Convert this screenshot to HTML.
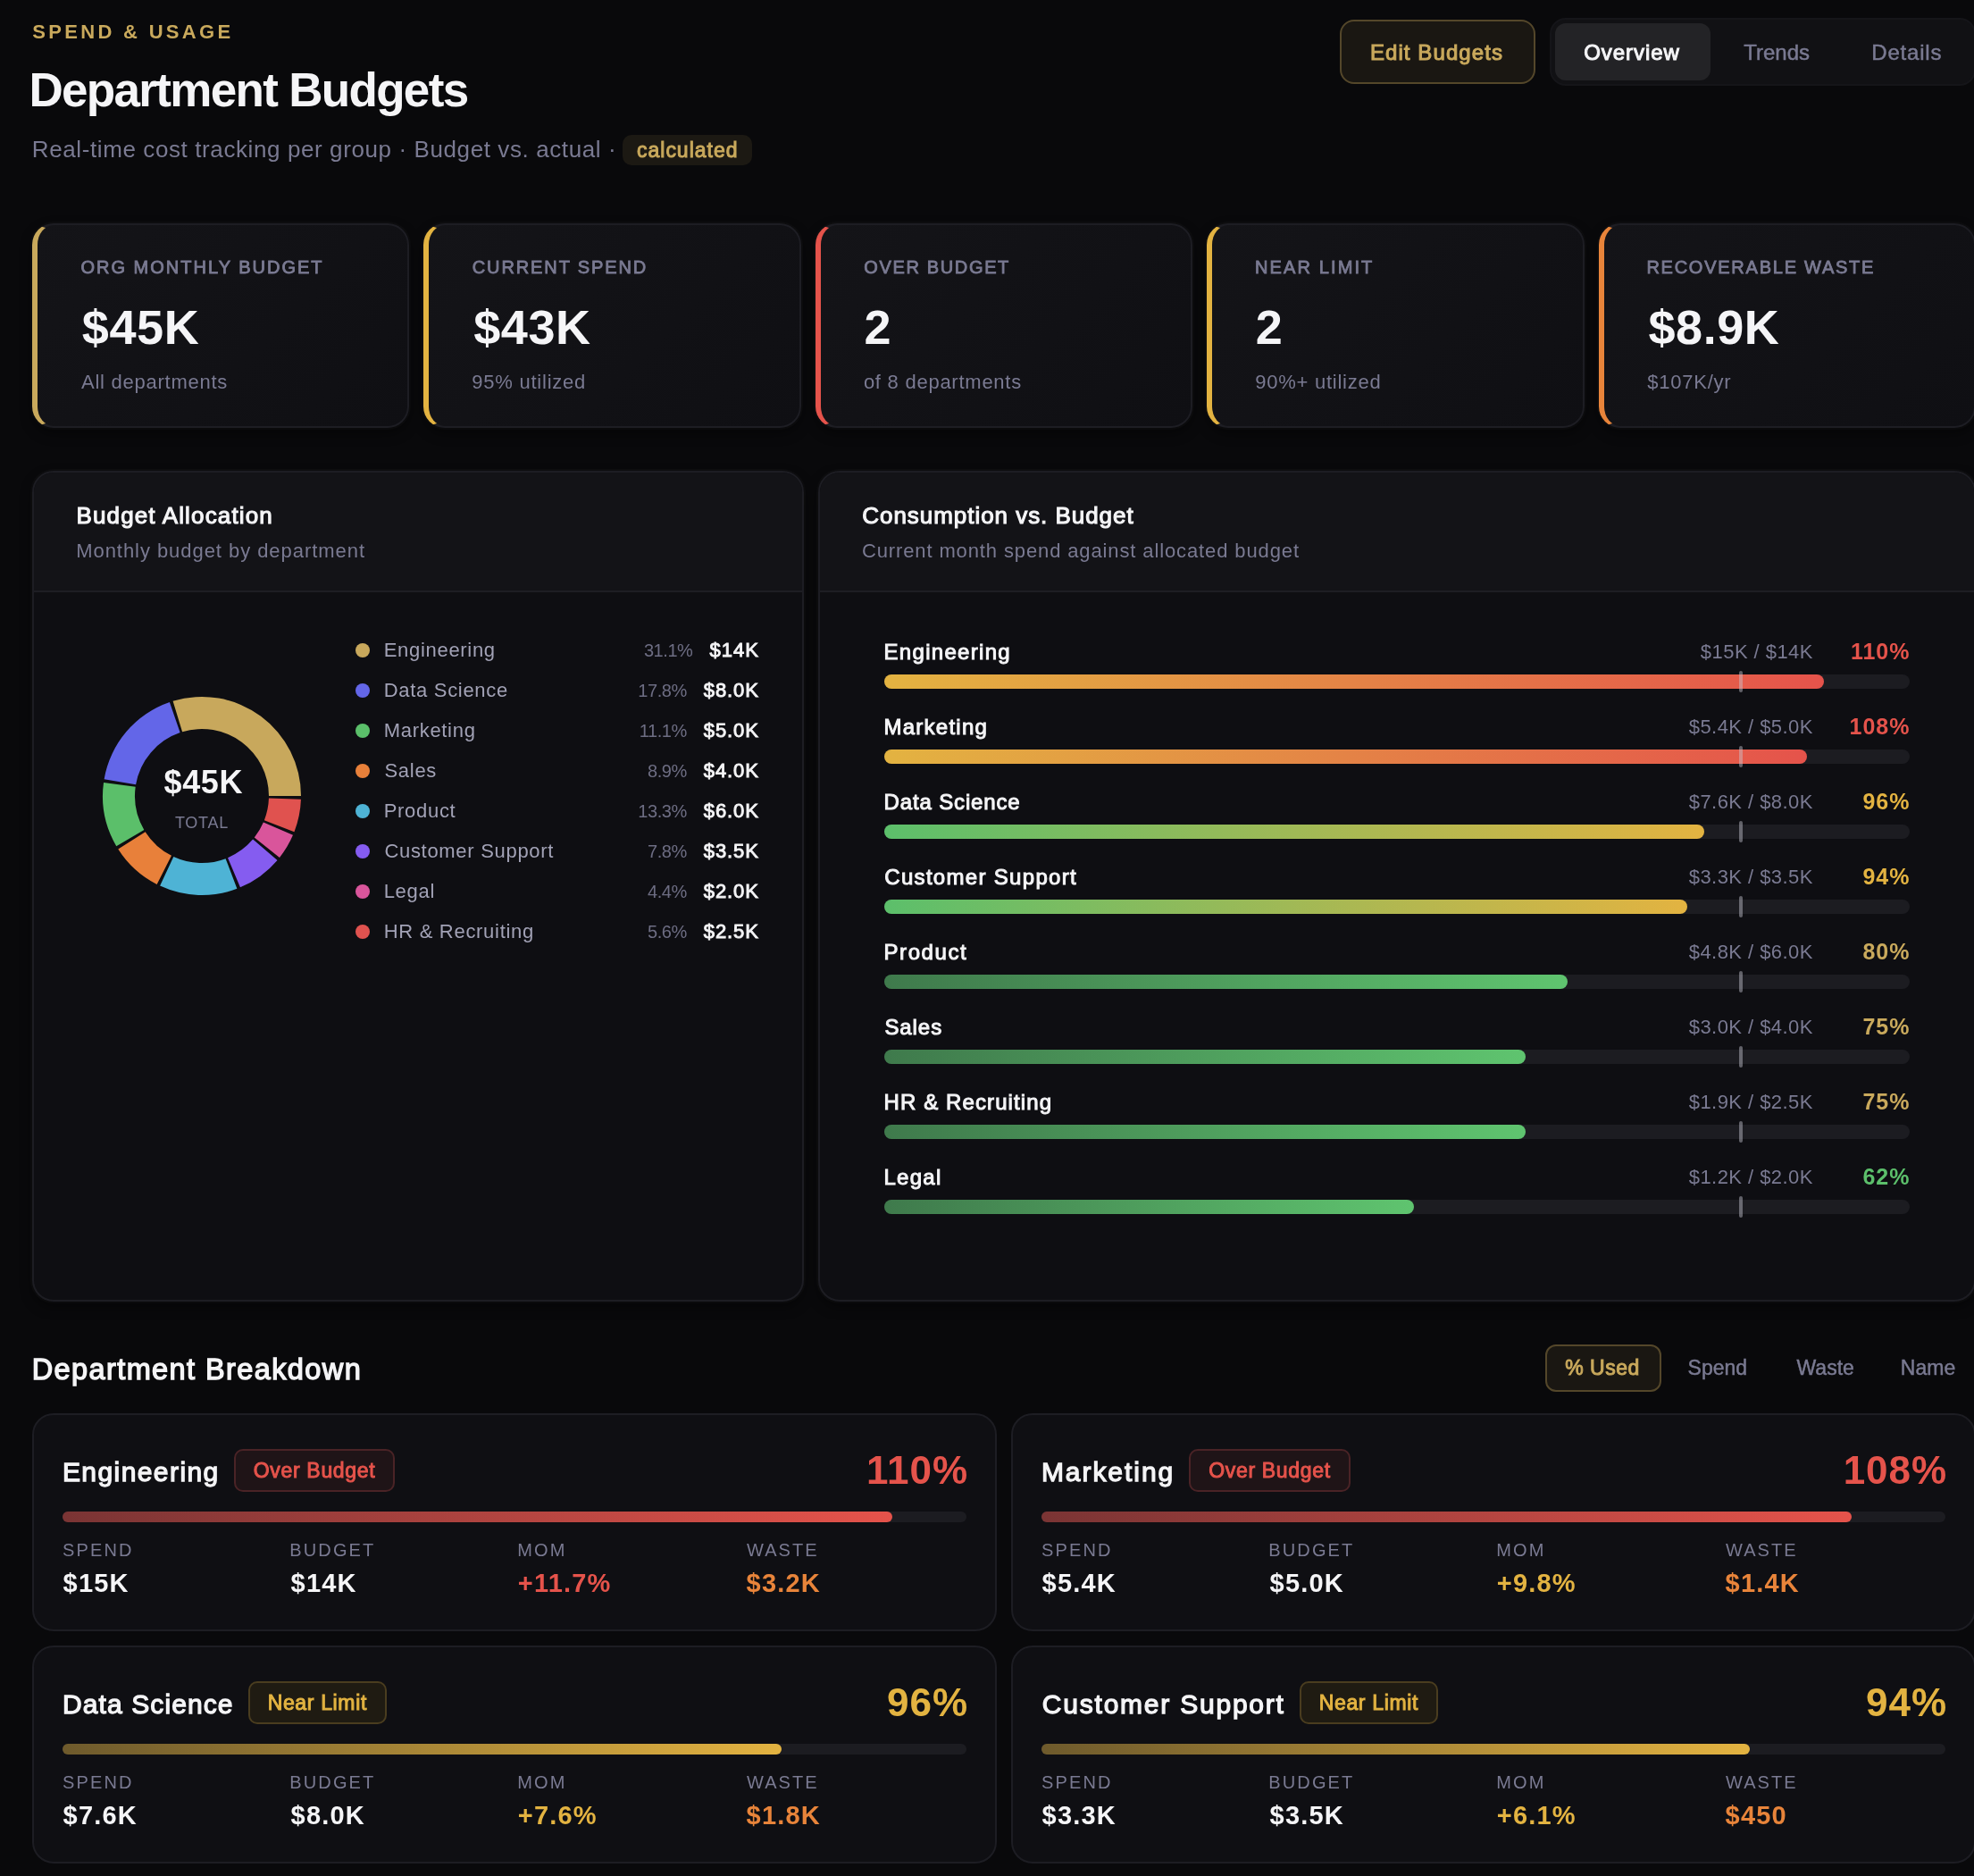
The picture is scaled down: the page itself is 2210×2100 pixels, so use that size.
<!DOCTYPE html><html><head><meta charset="utf-8"><title>Department Budgets</title>
<style>html,body{margin:0;padding:0;background:#09090b;}body{position:relative;width:2210px;height:2100px;overflow:hidden;font-family:"Liberation Sans", sans-serif;}</style>
<script>(function(){var w=window.innerWidth;if(w&&Math.abs(w-2210)>2){document.documentElement.style.zoom=w/2210;}})();</script>
</head><body><div style="position:absolute;left:0;top:0;width:2210px;height:2100px;overflow:hidden;will-change:transform">
<div style="position:absolute;left:36.37px;top:25.38px;font-size:22px;line-height:22px;color:#c9a95c;font-weight:700;letter-spacing:3.3px;white-space:pre;">SPEND &amp; USAGE</div>
<div style="position:absolute;left:32.45px;top:74.14px;font-size:53px;line-height:53px;color:#f5f5f7;font-weight:700;letter-spacing:-1.68px;white-space:pre;">Department Budgets</div>
<div style="position:absolute;left:35.87px;top:153.99px;font-size:26px;line-height:26px;color:#7a7a92;font-weight:400;letter-spacing:0.6px;white-space:pre;">Real-time cost tracking per group · Budget vs. actual ·</div>
<div style="position:absolute;left:697.00px;top:151.00px;width:145.00px;height:34.00px;background:#1c1913;border-radius:10px;"></div>
<div style="position:absolute;left:713.01px;top:156.53px;font-size:23px;line-height:23px;color:#c9a95c;font-weight:400;-webkit-text-stroke:0.97px currentColor;letter-spacing:0.992px;white-space:pre;">calculated</div>
<div style="position:absolute;left:1500.00px;top:22.00px;width:219.00px;height:72.00px;box-sizing:border-box;border:2px solid #54472a;background:#1a1712;border-radius:16px;"></div>
<div style="position:absolute;left:1533.94px;top:46.98px;font-size:24px;line-height:24px;color:#c9a95c;font-weight:400;-webkit-text-stroke:1.01px currentColor;letter-spacing:1.082px;white-space:pre;">Edit Budgets</div>
<div style="position:absolute;left:1735.00px;top:20.00px;width:477.00px;height:76.00px;box-sizing:border-box;background:#111114;border:2px solid #151519;border-radius:18px;"></div>
<div style="position:absolute;left:1741.00px;top:26.00px;width:174.00px;height:64.00px;background:#232326;border-radius:12px;"></div>
<div style="position:absolute;left:1773.17px;top:46.78px;font-size:24px;line-height:24px;color:#f5f5f7;font-weight:400;-webkit-text-stroke:1.01px currentColor;letter-spacing:0.959px;white-space:pre;">Overview</div>
<div style="position:absolute;left:1952.20px;top:46.78px;font-size:24px;line-height:24px;color:#7a7a92;font-weight:400;-webkit-text-stroke:0.48px currentColor;letter-spacing:0.000px;white-space:pre;">Trends</div>
<div style="position:absolute;left:2095.27px;top:46.78px;font-size:24px;line-height:24px;color:#7a7a92;font-weight:400;-webkit-text-stroke:0.48px currentColor;letter-spacing:0.800px;white-space:pre;">Details</div>
<div style="position:absolute;left:36.00px;top:250.00px;width:422.40px;height:229.00px;box-sizing:border-box;border:2px solid #1d1d23;border-left:6px solid #c9a95c;border-radius:24px;background:linear-gradient(135deg,#141418 0%,#0f0f13 100%);box-shadow:0 0 0 2px rgba(255,255,255,.018),0 6px 14px rgba(0,0,0,.45);"></div>
<div style="position:absolute;left:90.47px;top:289.07px;font-size:20px;line-height:20px;color:#7a7a92;font-weight:400;-webkit-text-stroke:0.84px currentColor;letter-spacing:2.009px;white-space:pre;">ORG MONTHLY BUDGET</div>
<div style="position:absolute;left:91.79px;top:338.89px;font-size:54px;line-height:54px;color:#f5f5f7;font-weight:700;letter-spacing:0.6px;white-space:pre;">$45K</div>
<div style="position:absolute;left:90.96px;top:417.18px;font-size:22px;line-height:22px;color:#7a7a92;font-weight:400;letter-spacing:0.75px;white-space:pre;">All departments</div>
<div style="position:absolute;left:474.40px;top:250.00px;width:422.40px;height:229.00px;box-sizing:border-box;border:2px solid #1d1d23;border-left:6px solid #e3b341;border-radius:24px;background:linear-gradient(135deg,#141418 0%,#0f0f13 100%);box-shadow:0 0 0 2px rgba(255,255,255,.018),0 6px 14px rgba(0,0,0,.45);"></div>
<div style="position:absolute;left:528.80px;top:289.07px;font-size:20px;line-height:20px;color:#7a7a92;font-weight:400;-webkit-text-stroke:0.84px currentColor;letter-spacing:1.880px;white-space:pre;">CURRENT SPEND</div>
<div style="position:absolute;left:530.19px;top:338.89px;font-size:54px;line-height:54px;color:#f5f5f7;font-weight:700;letter-spacing:0.6px;white-space:pre;">$43K</div>
<div style="position:absolute;left:528.37px;top:417.18px;font-size:22px;line-height:22px;color:#7a7a92;font-weight:400;letter-spacing:0.75px;white-space:pre;">95% utilized</div>
<div style="position:absolute;left:912.80px;top:250.00px;width:422.40px;height:229.00px;box-sizing:border-box;border:2px solid #1d1d23;border-left:6px solid #e5534b;border-radius:24px;background:linear-gradient(135deg,#141418 0%,#0f0f13 100%);box-shadow:0 0 0 2px rgba(255,255,255,.018),0 6px 14px rgba(0,0,0,.45);"></div>
<div style="position:absolute;left:967.27px;top:289.07px;font-size:20px;line-height:20px;color:#7a7a92;font-weight:400;-webkit-text-stroke:0.84px currentColor;letter-spacing:1.650px;white-space:pre;">OVER BUDGET</div>
<div style="position:absolute;left:967.43px;top:338.89px;font-size:54px;line-height:54px;color:#f5f5f7;font-weight:700;letter-spacing:0.6px;white-space:pre;">2</div>
<div style="position:absolute;left:966.88px;top:417.18px;font-size:22px;line-height:22px;color:#7a7a92;font-weight:400;letter-spacing:0.75px;white-space:pre;">of 8 departments</div>
<div style="position:absolute;left:1351.20px;top:250.00px;width:422.40px;height:229.00px;box-sizing:border-box;border:2px solid #1d1d23;border-left:6px solid #e3b341;border-radius:24px;background:linear-gradient(135deg,#141418 0%,#0f0f13 100%);box-shadow:0 0 0 2px rgba(255,255,255,.018),0 6px 14px rgba(0,0,0,.45);"></div>
<div style="position:absolute;left:1404.98px;top:289.07px;font-size:20px;line-height:20px;color:#7a7a92;font-weight:400;-webkit-text-stroke:0.84px currentColor;letter-spacing:2.124px;white-space:pre;">NEAR LIMIT</div>
<div style="position:absolute;left:1405.83px;top:338.89px;font-size:54px;line-height:54px;color:#f5f5f7;font-weight:700;letter-spacing:0.6px;white-space:pre;">2</div>
<div style="position:absolute;left:1405.17px;top:417.18px;font-size:22px;line-height:22px;color:#7a7a92;font-weight:400;letter-spacing:0.75px;white-space:pre;">90%+ utilized</div>
<div style="position:absolute;left:1789.60px;top:250.00px;width:422.40px;height:229.00px;box-sizing:border-box;border:2px solid #1d1d23;border-left:6px solid #e8843a;border-radius:24px;background:linear-gradient(135deg,#141418 0%,#0f0f13 100%);box-shadow:0 0 0 2px rgba(255,255,255,.018),0 6px 14px rgba(0,0,0,.45);"></div>
<div style="position:absolute;left:1843.38px;top:289.07px;font-size:20px;line-height:20px;color:#7a7a92;font-weight:400;-webkit-text-stroke:0.84px currentColor;letter-spacing:1.755px;white-space:pre;">RECOVERABLE WASTE</div>
<div style="position:absolute;left:1845.39px;top:338.89px;font-size:54px;line-height:54px;color:#f5f5f7;font-weight:700;letter-spacing:0.6px;white-space:pre;">$8.9K</div>
<div style="position:absolute;left:1844.36px;top:417.18px;font-size:22px;line-height:22px;color:#7a7a92;font-weight:400;letter-spacing:0.75px;white-space:pre;">$107K/yr</div>
<div style="position:absolute;left:36.00px;top:527.00px;width:864.00px;height:930.00px;box-sizing:border-box;border:2px solid #1d1d23;border-radius:24px;background:#0e0e12;box-shadow:0 0 0 2px rgba(255,255,255,.018),0 6px 14px rgba(0,0,0,.45);"></div>
<div style="position:absolute;left:38.00px;top:529.00px;width:860.00px;height:132.00px;background:#131317;border-radius:22px 22px 0 0;"></div>
<div style="position:absolute;left:38.00px;top:661.00px;width:860.00px;height:2.00px;background:#1d1d23;"></div>
<div style="position:absolute;left:916.00px;top:527.00px;width:1296.00px;height:930.00px;box-sizing:border-box;border:2px solid #1d1d23;border-radius:24px;background:#0e0e12;box-shadow:0 0 0 2px rgba(255,255,255,.018),0 6px 14px rgba(0,0,0,.45);"></div>
<div style="position:absolute;left:918.00px;top:529.00px;width:1292.00px;height:132.00px;background:#131317;border-radius:22px 22px 0 0;"></div>
<div style="position:absolute;left:918.00px;top:661.00px;width:1292.00px;height:2.00px;background:#1d1d23;"></div>
<div style="position:absolute;left:85.41px;top:563.99px;font-size:26px;line-height:26px;color:#f5f5f7;font-weight:400;-webkit-text-stroke:1.09px currentColor;letter-spacing:1.154px;white-space:pre;">Budget Allocation</div>
<div style="position:absolute;left:85.20px;top:605.78px;font-size:22px;line-height:22px;color:#7a7a92;font-weight:400;letter-spacing:0.95px;white-space:pre;">Monthly budget by department</div>
<div style="position:absolute;left:965.22px;top:563.99px;font-size:26px;line-height:26px;color:#f5f5f7;font-weight:400;-webkit-text-stroke:1.09px currentColor;letter-spacing:0.961px;white-space:pre;">Consumption vs. Budget</div>
<div style="position:absolute;left:964.88px;top:605.78px;font-size:22px;line-height:22px;color:#7a7a92;font-weight:400;letter-spacing:0.88px;white-space:pre;">Current month spend against allocated budget</div>
<svg style="position:absolute;left:0;top:0" width="2210" height="2100" viewBox="0 0 2210 2100"><path d="M337.00,891.00 A111,111 0 0 0 193.58,784.84 L204.09,819.27 A75,75 0 0 1 301.00,891.00 Z" fill="#c8a85c"/><path d="M189.89,786.04 A111,111 0 0 0 116.61,872.14 L152.09,878.25 A75,75 0 0 1 201.60,820.08 Z" fill="#6366e8"/><path d="M116.02,875.97 A111,111 0 0 0 130.26,947.17 L161.31,928.95 A75,75 0 0 1 151.69,880.84 Z" fill="#5bbf6a"/><path d="M132.28,950.48 A111,111 0 0 0 175.63,989.92 L191.97,957.83 A75,75 0 0 1 162.68,931.19 Z" fill="#e8803a"/><path d="M179.12,991.61 A111,111 0 0 0 265.36,994.79 L252.59,961.13 A75,75 0 0 1 194.32,958.98 Z" fill="#4eb3d5"/><path d="M268.96,993.35 A111,111 0 0 0 310.53,962.94 L283.12,939.61 A75,75 0 0 1 255.03,960.16 Z" fill="#855cf0"/><path d="M312.99,959.95 A111,111 0 0 0 327.98,934.84 L294.90,920.62 A75,75 0 0 1 284.78,937.59 Z" fill="#d9559b"/><path d="M329.44,931.26 A111,111 0 0 0 336.93,894.87 L300.95,893.62 A75,75 0 0 1 295.89,918.20 Z" fill="#e0524f"/></svg>
<div style="position:absolute;left:183.53px;top:858.43px;font-size:36px;line-height:36px;color:#f5f5f7;font-weight:700;letter-spacing:0.6px;white-space:pre;">$45K</div>
<div style="position:absolute;left:195.90px;top:911.76px;font-size:18px;line-height:18px;color:#7a7a92;font-weight:400;letter-spacing:0.75px;white-space:pre;">TOTAL</div>
<div style="position:absolute;left:398.00px;top:720.00px;width:16.00px;height:16.00px;background:#c8a85c;border-radius:50%;"></div>
<div style="position:absolute;left:429.70px;top:716.68px;font-size:22px;line-height:22px;color:#a2a2b6;font-weight:400;letter-spacing:0.7px;white-space:pre;">Engineering</div>
<div style="position:absolute;right:1360.20px;top:716.68px;line-height:22px;white-space:pre;display:flex;align-items:baseline;"><span style="font-size:20px;color:#6d6d83;letter-spacing:-0.45px;margin-right:19px">31.1%</span><span style="font-size:22px;color:#f5f5f7;font-weight:400;-webkit-text-stroke:0.92px currentColor;letter-spacing:1.005px;">$14K</span></div>
<div style="position:absolute;left:398.00px;top:765.00px;width:16.00px;height:16.00px;background:#6366e8;border-radius:50%;"></div>
<div style="position:absolute;left:429.70px;top:761.68px;font-size:22px;line-height:22px;color:#a2a2b6;font-weight:400;letter-spacing:0.7px;white-space:pre;">Data Science</div>
<div style="position:absolute;right:1360.20px;top:761.68px;line-height:22px;white-space:pre;display:flex;align-items:baseline;"><span style="font-size:20px;color:#6d6d83;letter-spacing:-0.45px;margin-right:19px">17.8%</span><span style="font-size:22px;color:#f5f5f7;font-weight:400;-webkit-text-stroke:0.92px currentColor;letter-spacing:0.903px;">$8.0K</span></div>
<div style="position:absolute;left:398.00px;top:810.00px;width:16.00px;height:16.00px;background:#5bbf6a;border-radius:50%;"></div>
<div style="position:absolute;left:429.70px;top:806.68px;font-size:22px;line-height:22px;color:#a2a2b6;font-weight:400;letter-spacing:0.7px;white-space:pre;">Marketing</div>
<div style="position:absolute;right:1360.20px;top:806.68px;line-height:22px;white-space:pre;display:flex;align-items:baseline;"><span style="font-size:20px;color:#6d6d83;letter-spacing:-0.45px;margin-right:19px">11.1%</span><span style="font-size:22px;color:#f5f5f7;font-weight:400;-webkit-text-stroke:0.92px currentColor;letter-spacing:0.903px;">$5.0K</span></div>
<div style="position:absolute;left:398.00px;top:855.00px;width:16.00px;height:16.00px;background:#e8803a;border-radius:50%;"></div>
<div style="position:absolute;left:430.50px;top:851.68px;font-size:22px;line-height:22px;color:#a2a2b6;font-weight:400;letter-spacing:0.7px;white-space:pre;">Sales</div>
<div style="position:absolute;right:1360.20px;top:851.68px;line-height:22px;white-space:pre;display:flex;align-items:baseline;"><span style="font-size:20px;color:#6d6d83;letter-spacing:-0.45px;margin-right:19px">8.9%</span><span style="font-size:22px;color:#f5f5f7;font-weight:400;-webkit-text-stroke:0.92px currentColor;letter-spacing:0.903px;">$4.0K</span></div>
<div style="position:absolute;left:398.00px;top:900.00px;width:16.00px;height:16.00px;background:#4eb3d5;border-radius:50%;"></div>
<div style="position:absolute;left:429.70px;top:896.68px;font-size:22px;line-height:22px;color:#a2a2b6;font-weight:400;letter-spacing:0.7px;white-space:pre;">Product</div>
<div style="position:absolute;right:1360.20px;top:896.68px;line-height:22px;white-space:pre;display:flex;align-items:baseline;"><span style="font-size:20px;color:#6d6d83;letter-spacing:-0.45px;margin-right:19px">13.3%</span><span style="font-size:22px;color:#f5f5f7;font-weight:400;-webkit-text-stroke:0.92px currentColor;letter-spacing:0.903px;">$6.0K</span></div>
<div style="position:absolute;left:398.00px;top:945.00px;width:16.00px;height:16.00px;background:#855cf0;border-radius:50%;"></div>
<div style="position:absolute;left:430.38px;top:941.68px;font-size:22px;line-height:22px;color:#a2a2b6;font-weight:400;letter-spacing:0.7px;white-space:pre;">Customer Support</div>
<div style="position:absolute;right:1360.20px;top:941.68px;line-height:22px;white-space:pre;display:flex;align-items:baseline;"><span style="font-size:20px;color:#6d6d83;letter-spacing:-0.45px;margin-right:19px">7.8%</span><span style="font-size:22px;color:#f5f5f7;font-weight:400;-webkit-text-stroke:0.92px currentColor;letter-spacing:0.903px;">$3.5K</span></div>
<div style="position:absolute;left:398.00px;top:990.00px;width:16.00px;height:16.00px;background:#d9559b;border-radius:50%;"></div>
<div style="position:absolute;left:429.70px;top:986.68px;font-size:22px;line-height:22px;color:#a2a2b6;font-weight:400;letter-spacing:0.7px;white-space:pre;">Legal</div>
<div style="position:absolute;right:1360.20px;top:986.68px;line-height:22px;white-space:pre;display:flex;align-items:baseline;"><span style="font-size:20px;color:#6d6d83;letter-spacing:-0.45px;margin-right:19px">4.4%</span><span style="font-size:22px;color:#f5f5f7;font-weight:400;-webkit-text-stroke:0.92px currentColor;letter-spacing:0.903px;">$2.0K</span></div>
<div style="position:absolute;left:398.00px;top:1035.00px;width:16.00px;height:16.00px;background:#e0524f;border-radius:50%;"></div>
<div style="position:absolute;left:429.70px;top:1031.68px;font-size:22px;line-height:22px;color:#a2a2b6;font-weight:400;letter-spacing:0.7px;white-space:pre;">HR &amp; Recruiting</div>
<div style="position:absolute;right:1360.20px;top:1031.68px;line-height:22px;white-space:pre;display:flex;align-items:baseline;"><span style="font-size:20px;color:#6d6d83;letter-spacing:-0.45px;margin-right:19px">5.6%</span><span style="font-size:22px;color:#f5f5f7;font-weight:400;-webkit-text-stroke:0.92px currentColor;letter-spacing:0.903px;">$2.5K</span></div>
<div style="position:absolute;left:989.54px;top:717.68px;font-size:24px;line-height:24px;color:#f5f5f7;font-weight:400;-webkit-text-stroke:1.01px currentColor;letter-spacing:1.308px;white-space:pre;">Engineering</div>
<div style="position:absolute;right:180.10px;top:719.38px;font-size:22px;line-height:22px;color:#7a7a92;font-weight:400;letter-spacing:0.45px;white-space:pre;">$15K / $14K</div>
<div style="position:absolute;right:71.54px;top:716.84px;font-size:25px;line-height:25px;color:#e5534b;font-weight:700;letter-spacing:1.0px;white-space:pre;">110%</div>
<div style="position:absolute;left:990.00px;top:755.00px;width:1148.00px;height:16.00px;background:#1c1c21;border-radius:8px;"></div>
<div style="position:absolute;left:990.00px;top:755.00px;width:1052.33px;height:16.00px;background:linear-gradient(90deg,#e3b341 0%,#e5534b 100%);border-radius:8px;"></div>
<div style="position:absolute;left:1947.00px;top:751.00px;width:4.00px;height:24.00px;background:rgba(200,200,210,.45);border-radius:2px;"></div>
<div style="position:absolute;left:989.54px;top:801.68px;font-size:24px;line-height:24px;color:#f5f5f7;font-weight:400;-webkit-text-stroke:1.01px currentColor;letter-spacing:1.248px;white-space:pre;">Marketing</div>
<div style="position:absolute;right:180.10px;top:803.38px;font-size:22px;line-height:22px;color:#7a7a92;font-weight:400;letter-spacing:0.45px;white-space:pre;">$5.4K / $5.0K</div>
<div style="position:absolute;right:71.54px;top:800.84px;font-size:25px;line-height:25px;color:#e5534b;font-weight:700;letter-spacing:1.0px;white-space:pre;">108%</div>
<div style="position:absolute;left:990.00px;top:839.00px;width:1148.00px;height:16.00px;background:#1c1c21;border-radius:8px;"></div>
<div style="position:absolute;left:990.00px;top:839.00px;width:1033.20px;height:16.00px;background:linear-gradient(90deg,#e3b341 0%,#e5534b 100%);border-radius:8px;"></div>
<div style="position:absolute;left:1947.00px;top:835.00px;width:4.00px;height:24.00px;background:rgba(200,200,210,.45);border-radius:2px;"></div>
<div style="position:absolute;left:989.54px;top:885.68px;font-size:24px;line-height:24px;color:#f5f5f7;font-weight:400;-webkit-text-stroke:1.01px currentColor;letter-spacing:0.856px;white-space:pre;">Data Science</div>
<div style="position:absolute;right:180.10px;top:887.38px;font-size:22px;line-height:22px;color:#7a7a92;font-weight:400;letter-spacing:0.45px;white-space:pre;">$7.6K / $8.0K</div>
<div style="position:absolute;right:71.54px;top:884.84px;font-size:25px;line-height:25px;color:#e3b341;font-weight:700;letter-spacing:1.0px;white-space:pre;">96%</div>
<div style="position:absolute;left:990.00px;top:923.00px;width:1148.00px;height:16.00px;background:#1c1c21;border-radius:8px;"></div>
<div style="position:absolute;left:990.00px;top:923.00px;width:918.40px;height:16.00px;background:linear-gradient(90deg,#5cbf6b 0%,#e3b341 100%);border-radius:8px;"></div>
<div style="position:absolute;left:1947.00px;top:919.00px;width:4.00px;height:24.00px;background:rgba(200,200,210,.45);border-radius:2px;"></div>
<div style="position:absolute;left:990.29px;top:969.68px;font-size:24px;line-height:24px;color:#f5f5f7;font-weight:400;-webkit-text-stroke:1.01px currentColor;letter-spacing:1.311px;white-space:pre;">Customer Support</div>
<div style="position:absolute;right:180.10px;top:971.38px;font-size:22px;line-height:22px;color:#7a7a92;font-weight:400;letter-spacing:0.45px;white-space:pre;">$3.3K / $3.5K</div>
<div style="position:absolute;right:71.54px;top:968.84px;font-size:25px;line-height:25px;color:#e3b341;font-weight:700;letter-spacing:1.0px;white-space:pre;">94%</div>
<div style="position:absolute;left:990.00px;top:1007.00px;width:1148.00px;height:16.00px;background:#1c1c21;border-radius:8px;"></div>
<div style="position:absolute;left:990.00px;top:1007.00px;width:899.27px;height:16.00px;background:linear-gradient(90deg,#5cbf6b 0%,#e3b341 100%);border-radius:8px;"></div>
<div style="position:absolute;left:1947.00px;top:1003.00px;width:4.00px;height:24.00px;background:rgba(200,200,210,.45);border-radius:2px;"></div>
<div style="position:absolute;left:989.54px;top:1053.68px;font-size:24px;line-height:24px;color:#f5f5f7;font-weight:400;-webkit-text-stroke:1.01px currentColor;letter-spacing:1.576px;white-space:pre;">Product</div>
<div style="position:absolute;right:180.10px;top:1055.38px;font-size:22px;line-height:22px;color:#7a7a92;font-weight:400;letter-spacing:0.45px;white-space:pre;">$4.8K / $6.0K</div>
<div style="position:absolute;right:71.54px;top:1052.84px;font-size:25px;line-height:25px;color:#c9a95c;font-weight:700;letter-spacing:1.0px;white-space:pre;">80%</div>
<div style="position:absolute;left:990.00px;top:1091.00px;width:1148.00px;height:16.00px;background:#1c1c21;border-radius:8px;"></div>
<div style="position:absolute;left:990.00px;top:1091.00px;width:765.33px;height:16.00px;background:linear-gradient(90deg,#3f7a4c 0%,#5fc46f 100%);border-radius:8px;"></div>
<div style="position:absolute;left:1947.00px;top:1087.00px;width:4.00px;height:24.00px;background:rgba(200,200,210,.45);border-radius:2px;"></div>
<div style="position:absolute;left:990.42px;top:1137.68px;font-size:24px;line-height:24px;color:#f5f5f7;font-weight:400;-webkit-text-stroke:1.01px currentColor;letter-spacing:0.921px;white-space:pre;">Sales</div>
<div style="position:absolute;right:180.10px;top:1139.38px;font-size:22px;line-height:22px;color:#7a7a92;font-weight:400;letter-spacing:0.45px;white-space:pre;">$3.0K / $4.0K</div>
<div style="position:absolute;right:71.54px;top:1136.84px;font-size:25px;line-height:25px;color:#c9a95c;font-weight:700;letter-spacing:1.0px;white-space:pre;">75%</div>
<div style="position:absolute;left:990.00px;top:1175.00px;width:1148.00px;height:16.00px;background:#1c1c21;border-radius:8px;"></div>
<div style="position:absolute;left:990.00px;top:1175.00px;width:717.50px;height:16.00px;background:linear-gradient(90deg,#3f7a4c 0%,#5fc46f 100%);border-radius:8px;"></div>
<div style="position:absolute;left:1947.00px;top:1171.00px;width:4.00px;height:24.00px;background:rgba(200,200,210,.45);border-radius:2px;"></div>
<div style="position:absolute;left:989.54px;top:1221.68px;font-size:24px;line-height:24px;color:#f5f5f7;font-weight:400;-webkit-text-stroke:1.01px currentColor;letter-spacing:1.104px;white-space:pre;">HR &amp; Recruiting</div>
<div style="position:absolute;right:180.10px;top:1223.38px;font-size:22px;line-height:22px;color:#7a7a92;font-weight:400;letter-spacing:0.45px;white-space:pre;">$1.9K / $2.5K</div>
<div style="position:absolute;right:71.54px;top:1220.84px;font-size:25px;line-height:25px;color:#c9a95c;font-weight:700;letter-spacing:1.0px;white-space:pre;">75%</div>
<div style="position:absolute;left:990.00px;top:1259.00px;width:1148.00px;height:16.00px;background:#1c1c21;border-radius:8px;"></div>
<div style="position:absolute;left:990.00px;top:1259.00px;width:717.50px;height:16.00px;background:linear-gradient(90deg,#3f7a4c 0%,#5fc46f 100%);border-radius:8px;"></div>
<div style="position:absolute;left:1947.00px;top:1255.00px;width:4.00px;height:24.00px;background:rgba(200,200,210,.45);border-radius:2px;"></div>
<div style="position:absolute;left:989.54px;top:1305.68px;font-size:24px;line-height:24px;color:#f5f5f7;font-weight:400;-webkit-text-stroke:1.01px currentColor;letter-spacing:1.240px;white-space:pre;">Legal</div>
<div style="position:absolute;right:180.10px;top:1307.38px;font-size:22px;line-height:22px;color:#7a7a92;font-weight:400;letter-spacing:0.45px;white-space:pre;">$1.2K / $2.0K</div>
<div style="position:absolute;right:71.54px;top:1304.84px;font-size:25px;line-height:25px;color:#5cbf6b;font-weight:700;letter-spacing:1.0px;white-space:pre;">62%</div>
<div style="position:absolute;left:990.00px;top:1343.00px;width:1148.00px;height:16.00px;background:#1c1c21;border-radius:8px;"></div>
<div style="position:absolute;left:990.00px;top:1343.00px;width:593.13px;height:16.00px;background:linear-gradient(90deg,#3f7a4c 0%,#5fc46f 100%);border-radius:8px;"></div>
<div style="position:absolute;left:1947.00px;top:1339.00px;width:4.00px;height:24.00px;background:rgba(200,200,210,.45);border-radius:2px;"></div>
<div style="position:absolute;left:35.71px;top:1517.49px;font-size:32.5px;line-height:32.5px;color:#f5f5f7;font-weight:400;-webkit-text-stroke:1.36px currentColor;letter-spacing:1.400px;white-space:pre;">Department Breakdown</div>
<div style="position:absolute;left:1730.00px;top:1505.00px;width:130.00px;height:53.00px;box-sizing:border-box;border:2px solid #54472a;background:#1a1712;border-radius:12px;"></div>
<div style="position:absolute;left:1752.17px;top:1519.53px;font-size:23px;line-height:23px;color:#c9a95c;font-weight:400;-webkit-text-stroke:0.97px currentColor;letter-spacing:0.510px;white-space:pre;">% Used</div>
<div style="position:absolute;left:1889.59px;top:1519.53px;font-size:23px;line-height:23px;color:#7a7a92;font-weight:400;-webkit-text-stroke:0.46px currentColor;letter-spacing:0.000px;white-space:pre;">Spend</div>
<div style="position:absolute;left:2011.53px;top:1519.53px;font-size:23px;line-height:23px;color:#7a7a92;font-weight:400;-webkit-text-stroke:0.46px currentColor;letter-spacing:0.000px;white-space:pre;">Waste</div>
<div style="position:absolute;left:2127.84px;top:1519.53px;font-size:23px;line-height:23px;color:#7a7a92;font-weight:400;-webkit-text-stroke:0.46px currentColor;letter-spacing:0.000px;white-space:pre;">Name</div>
<div style="position:absolute;left:36.00px;top:1582.00px;width:1080.00px;height:244.00px;box-sizing:border-box;border:2px solid #1d1d23;border-radius:24px;background:#0f0f13;"></div>
<div style="position:absolute;left:69.91px;top:1623.90px;height:48px;white-space:pre;display:flex;align-items:center;"><span style="font-size:30px;line-height:48px;color:#f5f5f7;font-weight:400;-webkit-text-stroke:1.26px currentColor;letter-spacing:1.423px;">Engineering</span><span style="box-sizing:border-box;height:48px;line-height:44px;padding:0 20px;margin-left:16px;border:2px solid #4a2326;background:#1f1417;border-radius:10px;font-size:23px;font-weight:400;-webkit-text-stroke:0.97px currentColor;letter-spacing:0.689px;color:#e5534b;position:relative;top:-1.5px">Over Budget</span></div>
<div style="position:absolute;right:1125.84px;top:1624.35px;font-size:44px;line-height:44px;color:#e5534b;font-weight:700;letter-spacing:1.0px;white-space:pre;">110%</div>
<div style="position:absolute;left:70.00px;top:1692.00px;width:1012.00px;height:12.00px;background:#1c1c21;border-radius:6px;"></div>
<div style="position:absolute;left:70.00px;top:1692.00px;width:928.51px;height:12.00px;background:linear-gradient(90deg,#7a3434 0%,#e5534b 100%);border-radius:6px;"></div>
<div style="position:absolute;left:70.09px;top:1725.37px;font-size:20px;line-height:20px;color:#7a7a92;font-weight:400;letter-spacing:2.1px;white-space:pre;">SPEND</div>
<div style="position:absolute;left:70.62px;top:1757.95px;font-size:29px;line-height:29px;color:#f5f5f7;font-weight:700;letter-spacing:1.2px;white-space:pre;">$15K</div>
<div style="position:absolute;left:324.36px;top:1725.37px;font-size:20px;line-height:20px;color:#7a7a92;font-weight:400;letter-spacing:2.1px;white-space:pre;">BUDGET</div>
<div style="position:absolute;left:325.62px;top:1757.95px;font-size:29px;line-height:29px;color:#f5f5f7;font-weight:700;letter-spacing:1.2px;white-space:pre;">$14K</div>
<div style="position:absolute;left:579.36px;top:1725.37px;font-size:20px;line-height:20px;color:#7a7a92;font-weight:400;letter-spacing:2.1px;white-space:pre;">MOM</div>
<div style="position:absolute;left:579.78px;top:1757.95px;font-size:29px;line-height:29px;color:#e5534b;font-weight:700;letter-spacing:1.2px;white-space:pre;">+11.7%</div>
<div style="position:absolute;left:835.91px;top:1725.37px;font-size:20px;line-height:20px;color:#7a7a92;font-weight:400;letter-spacing:2.1px;white-space:pre;">WASTE</div>
<div style="position:absolute;left:835.62px;top:1757.95px;font-size:29px;line-height:29px;color:#e8843a;font-weight:700;letter-spacing:1.2px;white-space:pre;">$3.2K</div>
<div style="position:absolute;left:1132.00px;top:1582.00px;width:1080.00px;height:244.00px;box-sizing:border-box;border:2px solid #1d1d23;border-radius:24px;background:#0f0f13;"></div>
<div style="position:absolute;left:1165.91px;top:1623.90px;height:48px;white-space:pre;display:flex;align-items:center;"><span style="font-size:30px;line-height:48px;color:#f5f5f7;font-weight:400;-webkit-text-stroke:1.26px currentColor;letter-spacing:1.947px;">Marketing</span><span style="box-sizing:border-box;height:48px;line-height:44px;padding:0 20px;margin-left:16px;border:2px solid #4a2326;background:#1f1417;border-radius:10px;font-size:23px;font-weight:400;-webkit-text-stroke:0.97px currentColor;letter-spacing:0.689px;color:#e5534b;position:relative;top:-1.5px">Over Budget</span></div>
<div style="position:absolute;right:29.84px;top:1624.35px;font-size:44px;line-height:44px;color:#e5534b;font-weight:700;letter-spacing:1.0px;white-space:pre;">108%</div>
<div style="position:absolute;left:1166.00px;top:1692.00px;width:1012.00px;height:12.00px;background:#1c1c21;border-radius:6px;"></div>
<div style="position:absolute;left:1166.00px;top:1692.00px;width:906.58px;height:12.00px;background:linear-gradient(90deg,#7a3434 0%,#e5534b 100%);border-radius:6px;"></div>
<div style="position:absolute;left:1166.09px;top:1725.37px;font-size:20px;line-height:20px;color:#7a7a92;font-weight:400;letter-spacing:2.1px;white-space:pre;">SPEND</div>
<div style="position:absolute;left:1166.62px;top:1757.95px;font-size:29px;line-height:29px;color:#f5f5f7;font-weight:700;letter-spacing:1.2px;white-space:pre;">$5.4K</div>
<div style="position:absolute;left:1420.36px;top:1725.37px;font-size:20px;line-height:20px;color:#7a7a92;font-weight:400;letter-spacing:2.1px;white-space:pre;">BUDGET</div>
<div style="position:absolute;left:1421.62px;top:1757.95px;font-size:29px;line-height:29px;color:#f5f5f7;font-weight:700;letter-spacing:1.2px;white-space:pre;">$5.0K</div>
<div style="position:absolute;left:1675.36px;top:1725.37px;font-size:20px;line-height:20px;color:#7a7a92;font-weight:400;letter-spacing:2.1px;white-space:pre;">MOM</div>
<div style="position:absolute;left:1675.78px;top:1757.95px;font-size:29px;line-height:29px;color:#e3b341;font-weight:700;letter-spacing:1.2px;white-space:pre;">+9.8%</div>
<div style="position:absolute;left:1931.91px;top:1725.37px;font-size:20px;line-height:20px;color:#7a7a92;font-weight:400;letter-spacing:2.1px;white-space:pre;">WASTE</div>
<div style="position:absolute;left:1931.62px;top:1757.95px;font-size:29px;line-height:29px;color:#e8843a;font-weight:700;letter-spacing:1.2px;white-space:pre;">$1.4K</div>
<div style="position:absolute;left:36.00px;top:1842.00px;width:1080.00px;height:244.00px;box-sizing:border-box;border:2px solid #1d1d23;border-radius:24px;background:#0f0f13;"></div>
<div style="position:absolute;left:69.91px;top:1883.90px;height:48px;white-space:pre;display:flex;align-items:center;"><span style="font-size:30px;line-height:48px;color:#f5f5f7;font-weight:400;-webkit-text-stroke:1.26px currentColor;letter-spacing:1.108px;">Data Science</span><span style="box-sizing:border-box;height:48px;line-height:44px;padding:0 20px;margin-left:16px;border:2px solid #4a3d1f;background:#1f1b12;border-radius:10px;font-size:23px;font-weight:400;-webkit-text-stroke:0.97px currentColor;letter-spacing:0.652px;color:#e3b341;position:relative;top:-1.5px">Near Limit</span></div>
<div style="position:absolute;right:1125.84px;top:1884.35px;font-size:44px;line-height:44px;color:#e3b341;font-weight:700;letter-spacing:1.0px;white-space:pre;">96%</div>
<div style="position:absolute;left:70.00px;top:1952.00px;width:1012.00px;height:12.00px;background:#1c1c21;border-radius:6px;"></div>
<div style="position:absolute;left:70.00px;top:1952.00px;width:804.54px;height:12.00px;background:linear-gradient(90deg,#6e5a2c 0%,#e3b341 100%);border-radius:6px;"></div>
<div style="position:absolute;left:70.09px;top:1985.37px;font-size:20px;line-height:20px;color:#7a7a92;font-weight:400;letter-spacing:2.1px;white-space:pre;">SPEND</div>
<div style="position:absolute;left:70.62px;top:2017.95px;font-size:29px;line-height:29px;color:#f5f5f7;font-weight:700;letter-spacing:1.2px;white-space:pre;">$7.6K</div>
<div style="position:absolute;left:324.36px;top:1985.37px;font-size:20px;line-height:20px;color:#7a7a92;font-weight:400;letter-spacing:2.1px;white-space:pre;">BUDGET</div>
<div style="position:absolute;left:325.62px;top:2017.95px;font-size:29px;line-height:29px;color:#f5f5f7;font-weight:700;letter-spacing:1.2px;white-space:pre;">$8.0K</div>
<div style="position:absolute;left:579.36px;top:1985.37px;font-size:20px;line-height:20px;color:#7a7a92;font-weight:400;letter-spacing:2.1px;white-space:pre;">MOM</div>
<div style="position:absolute;left:579.78px;top:2017.95px;font-size:29px;line-height:29px;color:#e3b341;font-weight:700;letter-spacing:1.2px;white-space:pre;">+7.6%</div>
<div style="position:absolute;left:835.91px;top:1985.37px;font-size:20px;line-height:20px;color:#7a7a92;font-weight:400;letter-spacing:2.1px;white-space:pre;">WASTE</div>
<div style="position:absolute;left:835.62px;top:2017.95px;font-size:29px;line-height:29px;color:#e8843a;font-weight:700;letter-spacing:1.2px;white-space:pre;">$1.8K</div>
<div style="position:absolute;left:1132.00px;top:1842.00px;width:1080.00px;height:244.00px;box-sizing:border-box;border:2px solid #1d1d23;border-radius:24px;background:#0f0f13;"></div>
<div style="position:absolute;left:1166.85px;top:1883.90px;height:48px;white-space:pre;display:flex;align-items:center;"><span style="font-size:30px;line-height:48px;color:#f5f5f7;font-weight:400;-webkit-text-stroke:1.26px currentColor;letter-spacing:1.776px;">Customer Support</span><span style="box-sizing:border-box;height:48px;line-height:44px;padding:0 20px;margin-left:16px;border:2px solid #4a3d1f;background:#1f1b12;border-radius:10px;font-size:23px;font-weight:400;-webkit-text-stroke:0.97px currentColor;letter-spacing:0.652px;color:#e3b341;position:relative;top:-1.5px">Near Limit</span></div>
<div style="position:absolute;right:29.84px;top:1884.35px;font-size:44px;line-height:44px;color:#e3b341;font-weight:700;letter-spacing:1.0px;white-space:pre;">94%</div>
<div style="position:absolute;left:1166.00px;top:1952.00px;width:1012.00px;height:12.00px;background:#1c1c21;border-radius:6px;"></div>
<div style="position:absolute;left:1166.00px;top:1952.00px;width:792.73px;height:12.00px;background:linear-gradient(90deg,#6e5a2c 0%,#e3b341 100%);border-radius:6px;"></div>
<div style="position:absolute;left:1166.09px;top:1985.37px;font-size:20px;line-height:20px;color:#7a7a92;font-weight:400;letter-spacing:2.1px;white-space:pre;">SPEND</div>
<div style="position:absolute;left:1166.62px;top:2017.95px;font-size:29px;line-height:29px;color:#f5f5f7;font-weight:700;letter-spacing:1.2px;white-space:pre;">$3.3K</div>
<div style="position:absolute;left:1420.36px;top:1985.37px;font-size:20px;line-height:20px;color:#7a7a92;font-weight:400;letter-spacing:2.1px;white-space:pre;">BUDGET</div>
<div style="position:absolute;left:1421.62px;top:2017.95px;font-size:29px;line-height:29px;color:#f5f5f7;font-weight:700;letter-spacing:1.2px;white-space:pre;">$3.5K</div>
<div style="position:absolute;left:1675.36px;top:1985.37px;font-size:20px;line-height:20px;color:#7a7a92;font-weight:400;letter-spacing:2.1px;white-space:pre;">MOM</div>
<div style="position:absolute;left:1675.78px;top:2017.95px;font-size:29px;line-height:29px;color:#e3b341;font-weight:700;letter-spacing:1.2px;white-space:pre;">+6.1%</div>
<div style="position:absolute;left:1931.91px;top:1985.37px;font-size:20px;line-height:20px;color:#7a7a92;font-weight:400;letter-spacing:2.1px;white-space:pre;">WASTE</div>
<div style="position:absolute;left:1931.62px;top:2017.95px;font-size:29px;line-height:29px;color:#e8843a;font-weight:700;letter-spacing:1.2px;white-space:pre;">$450</div>
</div></body></html>
